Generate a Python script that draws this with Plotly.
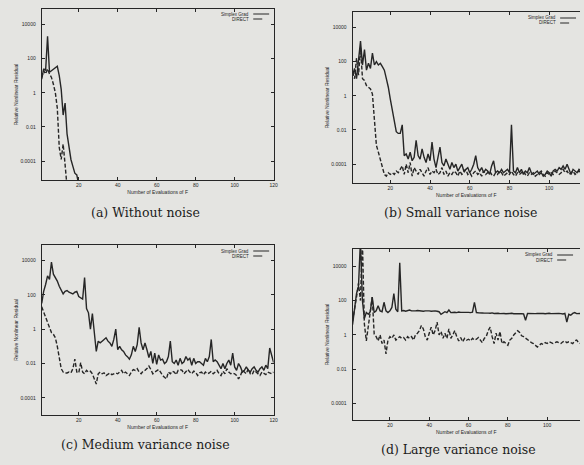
import plotly.graph_objects as go

W, H = 584, 465

# ---------------- data (log10 of relative nonlinear residual) ----------------
series_names = ["Simplex Grad", "DIRECT"]
x_tick_vals = [20, 40, 60, 80, 100, 120]
y_tick_vals = [1e-4, 1e-2, 1, 1e2, 1e4]
y_tick_text = ["0.0001", "0.01", "1", "100", "10000"]
captions = ["(a) Without noise", "(b) Small variance noise",
            "(c) Medium variance noise", "(d) Large variance noise"]

a_simplex_log10 = [0.8, 1.4, 1.3, 3.3, 1.2, 1.3, 1.35, 1.45, 1.55, 1.0,
                   0.2, -1.3, -0.6, -2.4, -3.3, -3.9, -4.3, -4.7, -4.8, -5.4]
a_direct_log10 = [0.9, 1.3, 1.1, 1.4, 1.1, 0.9, 0.5, 0.0, -0.9, -3.2,
                  -3.9, -3.0, -4.2, -5.5]

b_simplex_log10 = [1.2, 1.6, 1.0, 2.2, 3.2, 1.8, 2.7, 1.5, 1.9, 1.6,
                   2.5, 1.8, 2.0, 1.8, 1.9, 1.7, 1.5, 1.0, 0.5, -0.2,
                   -0.8, -1.6, -2.1, -2.2, -2.2, -1.7, -3.5, -3.4, -3.7, -3.3,
                   -3.8, -3.6, -2.6, -3.5, -3.7, -3.1, -3.6, -3.9, -3.4, -3.8,
                   -2.7, -3.7, -4.2, -3.6, -3.0, -3.9, -4.1, -3.7, -4.0, -4.3,
                   -3.9, -4.2, -4.0, -4.4, -4.2, -4.0, -4.4, -4.3, -4.2, -4.5,
                   -4.3, -4.0, -3.5, -4.2, -4.4, -4.2, -4.5, -4.3, -4.4, -4.6,
                   -4.1, -3.8, -4.5, -4.4, -4.5, -4.3, -4.5, -4.4, -4.3, -4.5,
                   -1.7, -4.4, -4.5, -4.2, -4.5, -4.3, -4.6, -4.4, -4.5, -4.2,
                   -4.5, -4.6, -4.5, -4.4, -4.6, -4.5, -4.7, -4.6, -4.4, -4.5,
                   -4.7, -4.4, -4.3, -4.4, -4.2, -4.3, -4.1, -4.3, -4.0, -4.3,
                   -4.6, -4.3, -4.4, -4.5, -4.3, -4.4, -4.3, -4.5, -4.4, -4.3]
b_direct_log10 = [1.4, 1.0, 2.2, 1.2, 2.8, 1.0, 0.9, 0.6, 0.5, 0.4,
                  0.1, -1.2, -2.9, -3.3, -3.7, -4.2, -4.6, -4.7, -4.5, -4.6,
                  -4.5, -4.6, -4.4, -4.5, -4.3, -4.1, -4.6, -4.0, -4.5, -3.9,
                  -4.7, -4.2, -4.4, -4.6, -4.3, -4.5, -4.7, -4.4, -4.2, -4.6,
                  -4.4, -4.5, -4.3, -4.6, -4.5, -4.2, -4.6, -4.4, -4.7, -4.5,
                  -4.6, -4.4, -4.5, -4.7, -4.4, -4.6, -4.5, -4.3, -4.6, -4.5,
                  -4.7, -4.5, -4.4, -4.6, -4.5, -4.7, -4.4, -4.6, -4.5, -4.4,
                  -4.6, -4.7, -4.5, -4.6, -4.4, -4.5, -4.7, -4.6, -4.5, -4.6,
                  -4.4, -4.6, -4.7, -4.5, -4.6, -4.5, -4.4, -4.6, -4.7, -4.5,
                  -4.6, -4.5, -4.7, -4.6, -4.5, -4.4, -4.6, -4.7, -4.5, -4.6,
                  -4.5, -4.6, -4.4, -4.5, -4.6, -4.5, -4.3, -4.5, -4.4, -4.6,
                  -4.5, -4.4, -4.6, -4.5, -4.4, -4.5, -4.6, -4.4, -4.5, -4.4]

c_simplex_log10 = [1.5, 2.2, 2.6, 3.1, 2.9, 3.9, 3.2, 3.0, 2.8, 2.5,
                   2.3, 2.05, 2.2, 2.25, 2.15, 2.1, 2.05, 2.15, 2.2, 1.9,
                   1.8, 1.75, 3.0, 1.2, 0.95, 0.0, 0.9, -0.4, -1.3, -0.7,
                   -0.8, -0.7, -0.6, -0.5, -0.7, -0.8, -1.0, -0.6, 0.0, -1.2,
                   -1.0, -1.2, -1.3, -1.5, -1.6, -1.75, -1.5, -1.0, -1.3, -0.9,
                   0.1, -0.8, -1.2, -0.8, -1.2, -1.65, -1.3, -2.0, -1.4, -2.05,
                   -1.5, -1.8, -1.75, -2.0, -1.9, -1.6, -0.7, -1.9, -2.0, -1.8,
                   -2.1, -1.7, -2.0, -1.9, -1.6, -1.8, -1.7, -2.1, -1.7, -2.0,
                   -1.9, -1.9, -2.0, -2.1, -1.7, -1.9, -1.6, -0.6, -1.9, -1.8,
                   -1.9, -2.1, -2.3, -2.0, -2.3, -2.0, -1.8, -2.1, -1.4, -2.2,
                   -2.4, -2.0, -2.2, -2.5, -2.4, -2.2, -2.4, -2.5, -2.3, -2.2,
                   -2.4, -2.5, -2.3, -2.2, -2.4, -2.1, -2.3, -1.1, -1.6, -1.95]
c_direct_log10 = [1.3, 1.0, 0.6, 0.3, 0.0, -0.2, -0.3, -0.5, -1.0, -1.6,
                  -2.3, -2.5, -2.55, -2.55, -2.5, -2.55, -2.3, -1.75, -2.5, -2.55,
                  -1.95, -2.5, -2.6, -2.4, -2.5, -2.45, -2.6, -2.9, -3.2, -2.6,
                  -2.5, -2.6, -2.55, -2.7, -2.6, -2.55, -2.65, -2.6, -2.55, -2.6,
                  -2.5, -2.4, -2.6, -2.5, -2.6, -2.7, -2.5, -2.35, -2.4, -2.3,
                  -2.5, -2.6, -2.45, -2.4, -2.3, -2.15, -2.35, -2.6, -2.5, -2.4,
                  -2.35, -2.5, -2.7, -2.8, -2.9, -2.5, -2.6, -2.45, -2.5, -2.65,
                  -2.4, -2.35, -2.4, -2.6, -2.5, -2.35, -2.5, -2.6, -2.45, -2.5,
                  -2.7, -2.55, -2.5, -2.65, -2.5, -2.6, -2.55, -2.45, -2.6, -2.5,
                  -2.4, -2.6, -2.7, -2.45, -2.6, -2.3, -2.5, -2.6, -2.55, -2.6,
                  -2.7, -2.9, -2.7, -2.4, -2.5, -2.6, -2.3, -2.6, -2.65, -2.4,
                  -2.5, -2.6, -2.7, -2.5, -2.6, -2.65, -2.5, -2.55, -2.6, -2.5]

d_simplex_log10 = [0.6, 1.5, 2.4, 2.8, 5.5, 2.0, 0.95, 1.3, 1.2, 1.35,
                   2.2, 1.3, 1.4, 1.7, 1.4, 1.35, 1.9, 1.4, 1.3, 1.4,
                   1.6, 2.4, 1.5, 1.35, 4.2, 1.4, 1.42, 1.38, 1.4, 1.45,
                   1.4, 1.38, 1.4, 1.42, 1.4, 1.4, 1.38, 1.4, 1.42, 1.4,
                   1.38, 1.4, 1.4, 1.38, 1.35, 1.2, 1.3, 1.35, 1.3, 1.45,
                   1.3, 1.33, 1.32, 1.3, 1.33, 1.31, 1.32, 1.3, 1.33, 1.31,
                   1.3, 1.32, 1.9, 1.3, 1.29, 1.3, 1.28, 1.27, 1.29, 1.27,
                   1.26, 1.28, 1.25, 1.27, 1.26, 1.24, 1.26, 1.25, 1.23, 1.25,
                   1.24, 1.26, 1.23, 1.24, 1.25, 1.23, 1.24, 1.22, 0.85, 1.25,
                   1.24, 1.25, 1.26, 1.24, 1.25, 1.26, 1.24, 1.25, 1.23, 1.25,
                   1.26, 1.24, 1.25, 1.23, 1.24, 1.25, 1.24, 1.22, 1.25, 0.75,
                   1.2, 1.15, 1.25, 1.3, 1.24, 1.26, 1.25, 1.24, 1.26, 1.25]
d_direct_log10 = [0.8, 1.4, 2.2, 3.0, 2.0, 5.5, 0.65, -0.35, 0.5, 1.2,
                  2.2, 0.05, -0.1, -0.35, 0.0, -0.5, -0.3, -1.1, -0.3, -0.1,
                  -0.2, 0.0, -0.3, -0.2, -0.1, -0.2, -0.15, -0.3, -0.1, -0.2,
                  -0.1, -0.3, 0.0, 0.1, 0.25, 0.55, 0.35, -0.1, -0.3, 0.1,
                  0.45, 0.0, 0.25, 0.75, 0.0, 0.2, -0.2, 0.1, -0.2, 0.35,
                  -0.2, 0.0, 0.25, -0.1, -0.35, -0.15, -0.4, -0.2, -0.3, -0.25,
                  -0.35, -0.2, -0.3, -0.25, -0.15, -0.3, -0.45, -0.2, -0.1, 0.25,
                  0.45, -0.1, -0.5, 0.1, -0.3, 0.2, -0.5, -0.4, -0.5, -0.6,
                  -0.3, -0.2, 0.0, 0.1, 0.25, 0.15, -0.05, -0.1, -0.2, -0.3,
                  -0.4, -0.45, -0.5, -0.6, -0.7, -0.6, -0.5, -0.55, -0.45, -0.5,
                  -0.4, -0.45, -0.5, -0.45, -0.4, -0.45, -0.5, -0.4, -0.35, -0.45,
                  -0.4, -0.45, -0.5, -0.35, -0.3, -0.45, -0.5, -0.4, -0.45, -0.5]

panels = [
    (a_simplex_log10, a_direct_log10),
    (b_simplex_log10, b_direct_log10),
    (c_simplex_log10, c_direct_log10),
    (d_simplex_log10, d_direct_log10),
]

# ---------------- layout helpers (pixel -> paper) ----------------
def px(x):
    return x / W

def py(y):
    return 1 - y / H

# plot boxes in pixels: left, right, top, bottom ; x range ; log y range ; cut at right
boxes = [
    (42, 275.5, 9, 180, [1, 120], [-5.1, 4.9], False),
    (355, 584, 12, 183, [1, 115.5], [-5.1, 4.9], True),
    (42, 275.5, 245, 415, [1, 120], [-5.0, 4.9], False),
    (355, 584, 249, 420, [1, 116.7], [-4.95, 5.0], True),
]
caption_pos = [(146, 213), (464, 213), (146, 444), (462, 449)]
legend_pos = [(253, 14, 19), (562, 18, 23), (253, 251, 256), (559, 255, 260)]

BG = "#e4e4e1"
INK = "#262626"
TICKFONT = dict(family="Liberation Sans", size=5, color=INK)

fig = go.Figure()
annotations = []
shapes = []

for i, ((s_log, d_log), box) in enumerate(zip(panels, boxes)):
    left, right, top, bottom, xr, yr, cut = box
    n = i + 1
    xa = "x" if n == 1 else f"x{n}"
    ya = "y" if n == 1 else f"y{n}"
    for vals, name, dash in ((s_log, series_names[0], "solid"),
                             (d_log, series_names[1], "4px,2px")):
        xs = list(range(1, len(vals) + 1))
        ys = [10 ** v for v in vals]
        fig.add_trace(go.Scatter(x=xs, y=ys, mode="lines", name=name,
                                 showlegend=False, xaxis=xa, yaxis=ya,
                                 line=dict(color=INK, width=1.4, dash=dash)))
    xkey = "xaxis" if n == 1 else f"xaxis{n}"
    ykey = "yaxis" if n == 1 else f"yaxis{n}"
    fig.layout[xkey] = dict(
        domain=[px(left), px(right)], range=xr, anchor=ya,
        tickvals=x_tick_vals, ticks="inside", ticklen=3, tickcolor=INK,
        showline=True, linecolor=INK, linewidth=1, mirror="ticks",
        showgrid=False, zeroline=False, tickfont=TICKFONT,
        title=dict(text="Number of Evaluations of F",
                   font=dict(family="Liberation Sans", size=5, color=INK),
                   standoff=3),
    )
    fig.layout[ykey] = dict(
        domain=[py(bottom), py(top)], range=yr, type="log", anchor=xa,
        tickvals=y_tick_vals, ticktext=y_tick_text,
        ticks="inside", ticklen=3, tickcolor=INK,
        showline=True, linecolor=INK, linewidth=1,
        mirror=False if cut else "ticks",
        showgrid=False, zeroline=False, tickfont=TICKFONT,
        ticklabelstandoff=4,
        title=dict(text="Relative Nonlinear Residual",
                   font=dict(family="Liberation Sans", size=5, color=INK),
                   standoff=1),
    )
    # caption
    cx, cy = caption_pos[i]
    annotations.append(dict(text=captions[i], x=px(cx), y=py(cy),
                            xref="paper", yref="paper", showarrow=False,
                            xanchor="center", yanchor="middle",
                            font=dict(family="DejaVu Serif", size=12.5, color="#1c1c1c")))
    # gnuplot style key (text left, sample right)
    lx, ly1, ly2 = legend_pos[i]
    for name, yy, dash in ((series_names[0], ly1, "solid"),
                           (series_names[1], ly2, "dash")):
        annotations.append(dict(text=name, x=px(lx), y=py(yy), xref="paper",
                                yref="paper", showarrow=False, xanchor="right",
                                yanchor="middle",
                                font=dict(family="Liberation Sans", size=4.5, color=INK)))
        shapes.append(dict(type="line", xref="paper", yref="paper",
                           x0=px(lx + 2), x1=px(lx + 18), y0=py(yy), y1=py(yy),
                           line=dict(color=INK, width=1, dash=dash)))

fig.update_layout(
    width=W, height=H, margin=dict(l=0, r=0, t=0, b=0),
    paper_bgcolor=BG, plot_bgcolor=BG,
    annotations=annotations, shapes=shapes, showlegend=False,
)

fig.write_html(
    "out.html",
    config={"displayModeBar": False},
    post_script="document.body.style.margin='0';document.body.style.overflow='hidden';",
)
